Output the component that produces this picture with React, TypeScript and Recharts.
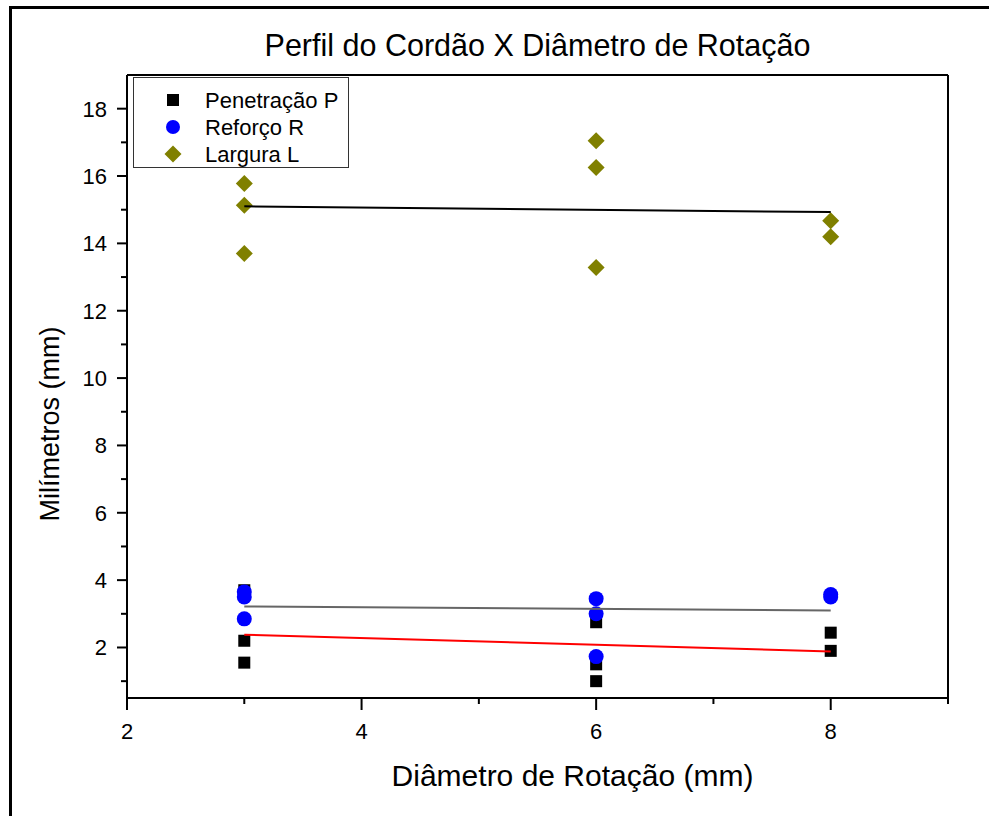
import { ScatterChart, Scatter, XAxis, YAxis, ReferenceLine } from 'recharts'

const xTicks = [2, 3, 4, 5, 6, 7, 8, 9]
const yTicks = [1, 2, 3, 4, 5, 6, 7, 8, 9, 10, 11, 12, 13, 14, 15, 16, 17, 18]

const diametro = [3, 3, 3, 6, 6, 6, 8, 8]
const penetracao = [3.7, 2.2, 1.55, 2.75, 1.5, 1.0, 2.44, 1.9]
const reforco = [3.65, 3.5, 2.85, 3.45, 3.0, 1.73, 3.57, 3.5]
const largura = [15.78, 15.13, 13.7, 17.05, 16.25, 13.28, 14.67, 14.2]

// linear fit end points
const fitX = [3, 8]
const fitP = [2.38, 1.88]
const fitR = [3.22, 3.1]
const fitL = [15.1, 14.93]

const FONT = '"Liberation Sans", Arial, sans-serif'
const BLUE = '#0000ff'
const OLIVE = '#808000'

const toPoints = (xs: number[], ys: number[]) => xs.map((x, i) => ({ x, y: ys[i] }))

const Square = (props: any) => {
  const { cx, cy, fill } = props
  return <rect x={cx - 6} y={cy - 6} width={12} height={12} fill={fill} />
}
const Dot = (props: any) => {
  const { cx, cy, fill } = props
  return <circle cx={cx} cy={cy} r={7.5} fill={fill} />
}
const Diamond = (props: any) => {
  const { cx, cy, fill } = props
  const d = 8.5
  return <polygon points={`${cx},${cy - d} ${cx + d},${cy} ${cx},${cy + d} ${cx - d},${cy}`} fill={fill} />
}
const NoMark = () => <g />

const TICK = 10
const GAP = 10

const YTick = (props: any) => {
  const { x, y, payload } = props
  const ax = x + TICK + GAP
  const major = payload.value % 2 === 0
  return (
    <g>
      <line x1={ax} x2={ax - (major ? 10 : 6)} y1={y} y2={y} stroke="#000" strokeWidth={2} />
      {major && (
        <text x={ax - 20} y={y} dy={8} textAnchor="end" fontSize={22} fontFamily={FONT} fill="#000">
          {payload.value}
        </text>
      )}
    </g>
  )
}

const XTick = (props: any) => {
  const { x, y, payload } = props
  const ay = y - TICK - GAP
  const major = payload.value % 2 === 0
  return (
    <g>
      <line x1={x} x2={x} y1={ay} y2={ay + (major ? 12 : 6)} stroke="#000" strokeWidth={2} />
      {major && (
        <text x={x} y={ay + 41} textAnchor="middle" fontSize={22} fontFamily={FONT} fill="#000">
          {payload.value}
        </text>
      )}
    </g>
  )
}

const legendItems = [
  { name: 'Penetração P', color: '#000', kind: 'square' },
  { name: 'Reforço R', color: BLUE, kind: 'circle' },
  { name: 'Largura L', color: OLIVE, kind: 'diamond' },
]

export default function App() {
  return (
    <div style={{ position: 'absolute', left: 0, top: 0, width: 989, height: 816, background: '#fff', fontFamily: FONT }}>
      <div style={{ position: 'absolute', left: 9, top: 6, right: 0, bottom: 0, borderTop: '3px solid #000', borderLeft: '3px solid #000' }} />

      <div style={{ position: 'absolute', left: 127, width: 821, top: 27, textAlign: 'center', fontSize: 30.5, lineHeight: '36px', color: '#000' }}>
        Perfil do Cordão X Diâmetro de Rotação
      </div>

      <ScatterChart width={989} height={816} margin={{ top: 75, right: 41, bottom: 78, left: 67 }}>
        <XAxis
          type="number"
          dataKey="x"
          domain={[2, 9]}
          ticks={xTicks}
          interval={0}
          allowDataOverflow
          height={40}
          tickSize={TICK}
          tickMargin={GAP}
          tickLine={false}
          axisLine={{ stroke: '#000', strokeWidth: 2 }}
          tick={<XTick />}
        />
        <YAxis
          type="number"
          dataKey="y"
          domain={[0.5, 19]}
          ticks={yTicks}
          interval={0}
          allowDataOverflow
          width={60}
          tickSize={TICK}
          tickMargin={GAP}
          tickLine={false}
          axisLine={{ stroke: '#000', strokeWidth: 2 }}
          tick={<YTick />}
        />
        <ReferenceLine y={19} stroke="#000" strokeWidth={2} />
        <ReferenceLine x={9} stroke="#000" strokeWidth={2} />

        <Scatter name="Penetração P" data={toPoints(diametro, penetracao)} fill="#000" shape={Square} isAnimationActive={false} />
        <Scatter name="Reforço R" data={toPoints(diametro, reforco)} fill={BLUE} shape={Dot} isAnimationActive={false} />
        <Scatter name="Largura L" data={toPoints(diametro, largura)} fill={OLIVE} shape={Diamond} isAnimationActive={false} />

        <Scatter data={toPoints(fitX, fitL)} line={{ stroke: '#000', strokeWidth: 2 }} shape={NoMark} legendType="none" isAnimationActive={false} />
        <Scatter data={toPoints(fitX, fitR)} line={{ stroke: '#666', strokeWidth: 2 }} shape={NoMark} legendType="none" isAnimationActive={false} />
        <Scatter data={toPoints(fitX, fitP)} line={{ stroke: '#ff0000', strokeWidth: 2 }} shape={NoMark} legendType="none" isAnimationActive={false} />
      </ScatterChart>

      <div style={{ position: 'absolute', left: 133, top: 77, width: 216, height: 91, border: '1px solid #333', background: '#fff', boxSizing: 'border-box' }}>
        <svg width={214} height={89} style={{ position: 'absolute', left: 0, top: 0 }}>
          {legendItems.map((it, i) => {
            const cy = 22 + i * 27
            const cx = 39
            return (
              <g key={it.name}>
                {it.kind === 'square' && <Square cx={cx} cy={cy} fill={it.color} />}
                {it.kind === 'circle' && <circle cx={cx} cy={cy} r={7} fill={it.color} />}
                {it.kind === 'diamond' && <Diamond cx={cx} cy={cy} fill={it.color} />}
                <text x={71} y={cy + 8} fontSize={22} fontFamily={FONT} fill="#000">{it.name}</text>
              </g>
            )
          })}
        </svg>
      </div>

      <div style={{ position: 'absolute', left: 162, width: 821, top: 758, textAlign: 'center', fontSize: 30, lineHeight: '36px', color: '#000' }}>
        Diâmetro de Rotação (mm)
      </div>

      <div
        style={{
          position: 'absolute',
          left: 50,
          top: 424,
          transform: 'translate(-50%, -50%) rotate(-90deg)',
          whiteSpace: 'nowrap',
          fontSize: 27,
          lineHeight: '32px',
          color: '#000',
        }}
      >
        Milímetros (mm)
      </div>
    </div>
  )
}
